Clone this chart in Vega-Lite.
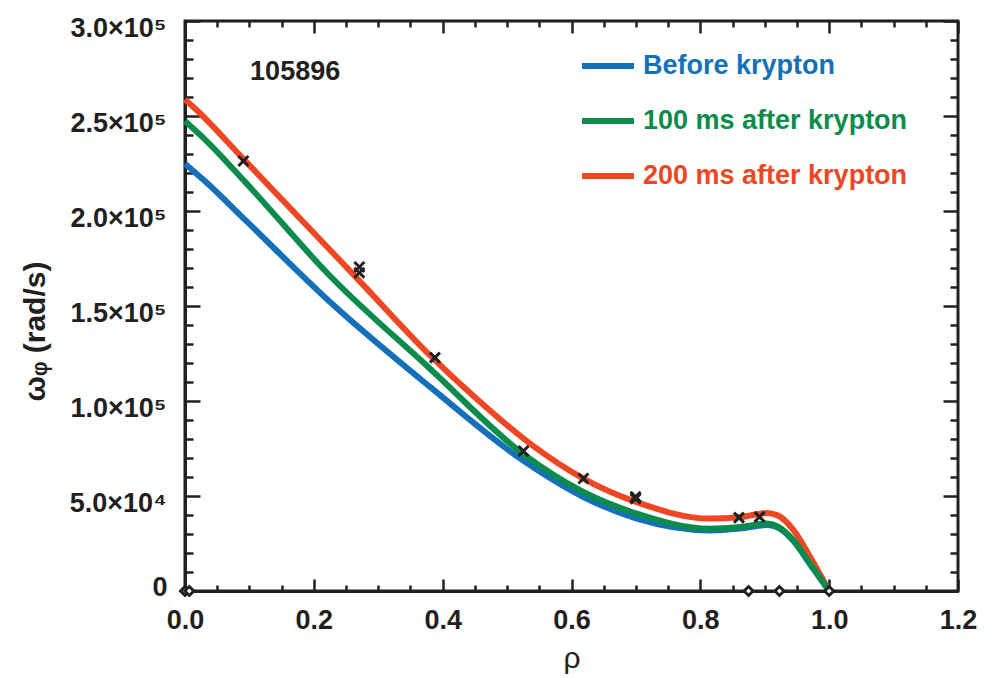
{
  "$schema": "https://vega.github.io/schema/vega-lite/v6.json",
  "width": 773,
  "height": 570,
  "autosize": {"type": "none"},
  "padding": {"left": 185, "top": 21, "right": 34, "bottom": 87},
  "background": "white",
  "config": {
    "font": "Liberation Sans",
    "view": {"stroke": "#231f20", "strokeWidth": 3},
    "axis": {
      "grid": false,
      "labelOverlap": false,
      "labelBound": false,
      "labelFlush": false,
      "domainColor": "#231f20",
      "domainWidth": 3,
      "tickColor": "#231f20",
      "tickWidth": 2.5,
      "labelFont": "Liberation Sans",
      "labelFontSize": 27,
      "labelFontWeight": "bold",
      "labelColor": "#231f20",
      "titleColor": "#231f20",
      "titleFont": "Liberation Sans"
    }
  },
  "datasets": {
    "curves": [
      {"rho": 0, "w": 224900, "series": "Before krypton"},
      {"rho": 0.03, "w": 216000, "series": "Before krypton"},
      {"rho": 0.0958, "w": 194500, "series": "Before krypton"},
      {"rho": 0.2252, "w": 152100, "series": "Before krypton"},
      {"rho": 0.3804, "w": 107400, "series": "Before krypton"},
      {"rho": 0.5244, "w": 68800, "series": "Before krypton"},
      {"rho": 0.6185, "w": 49500, "series": "Before krypton"},
      {"rho": 0.7013, "w": 38100, "series": "Before krypton"},
      {"rho": 0.8152, "w": 31900, "series": "Before krypton"},
      {"rho": 0.8618, "w": 32900, "series": "Before krypton"},
      {"rho": 0.9033, "w": 34700, "series": "Before krypton"},
      {"rho": 0.9193, "w": 33500, "series": "Before krypton"},
      {"rho": 0.9446, "w": 26300, "series": "Before krypton"},
      {"rho": 0.9705, "w": 14000, "series": "Before krypton"},
      {"rho": 1.0, "w": 0, "series": "Before krypton"},
      {"rho": 0, "w": 258700, "series": "200 ms after krypton"},
      {"rho": 0.02, "w": 252500, "series": "200 ms after krypton"},
      {"rho": 0.0854, "w": 229300, "series": "200 ms after krypton"},
      {"rho": 0.2252, "w": 179500, "series": "200 ms after krypton"},
      {"rho": 0.27, "w": 163500, "series": "200 ms after krypton"},
      {"rho": 0.3804, "w": 124000, "series": "200 ms after krypton"},
      {"rho": 0.45, "w": 102000, "series": "200 ms after krypton"},
      {"rho": 0.5357, "w": 77600, "series": "200 ms after krypton"},
      {"rho": 0.6185, "w": 59200, "series": "200 ms after krypton"},
      {"rho": 0.7013, "w": 46800, "series": "200 ms after krypton"},
      {"rho": 0.8152, "w": 38100, "series": "200 ms after krypton"},
      {"rho": 0.862, "w": 38900, "series": "200 ms after krypton"},
      {"rho": 0.903, "w": 41000, "series": "200 ms after krypton"},
      {"rho": 0.92, "w": 39800, "series": "200 ms after krypton"},
      {"rho": 0.945, "w": 31900, "series": "200 ms after krypton"},
      {"rho": 0.9705, "w": 17900, "series": "200 ms after krypton"},
      {"rho": 1.0, "w": 0, "series": "200 ms after krypton"},
      {"rho": 0, "w": 247400, "series": "100 ms after krypton"},
      {"rho": 0.03, "w": 238000, "series": "100 ms after krypton"},
      {"rho": 0.0958, "w": 214400, "series": "100 ms after krypton"},
      {"rho": 0.2252, "w": 165800, "series": "100 ms after krypton"},
      {"rho": 0.3804, "w": 117000, "series": "100 ms after krypton"},
      {"rho": 0.5244, "w": 72300, "series": "100 ms after krypton"},
      {"rho": 0.6185, "w": 52100, "series": "100 ms after krypton"},
      {"rho": 0.7013, "w": 40700, "series": "100 ms after krypton"},
      {"rho": 0.8152, "w": 32800, "series": "100 ms after krypton"},
      {"rho": 0.8618, "w": 33700, "series": "100 ms after krypton"},
      {"rho": 0.9033, "w": 35500, "series": "100 ms after krypton"},
      {"rho": 0.9193, "w": 34100, "series": "100 ms after krypton"},
      {"rho": 0.9446, "w": 26700, "series": "100 ms after krypton"},
      {"rho": 0.9705, "w": 14400, "series": "100 ms after krypton"},
      {"rho": 1.0, "w": 0, "series": "100 ms after krypton"}
    ],
    "meas": [
      {"rho": 0.0906, "w": 226300},
      {"rho": 0.2707, "w": 170500},
      {"rho": 0.2707, "w": 167500},
      {"rho": 0.388, "w": 122800},
      {"rho": 0.5254, "w": 73700},
      {"rho": 0.6185, "w": 59200},
      {"rho": 0.6995, "w": 49600},
      {"rho": 0.6995, "w": 48600},
      {"rho": 0.86, "w": 38600},
      {"rho": 0.892, "w": 39000}
    ],
    "edge": [
      {"rho": 0.0, "w": 0},
      {"rho": 0.0067, "w": 0},
      {"rho": 0.8748, "w": 0},
      {"rho": 0.9228, "w": 0},
      {"rho": 1.0, "w": 0}
    ],
    "note": [
      {"rho": 0.171, "w": 273000, "label": "105896"}
    ]
  },
  "layer": [
    {
      "layer": [
        {
          "data": {"name": "curves"},
          "mark": {"type": "line", "strokeWidth": 6, "interpolate": "monotone"},
          "encoding": {
            "x": {
              "field": "rho", "type": "quantitative",
              "scale": {"domain": [0, 1.2], "nice": false, "zero": false},
              "axis": {
                "orient": "bottom",
                "title": "ρ",
                "titleFontSize": 30,
                "titleFontWeight": "normal",
                "titlePadding": 10,
                "values": [0, 0.2, 0.4, 0.6, 0.8, 1.0, 1.2],
                "format": ".1f",
                "tickSize": -12,
                "labelPadding": 28
              }
            },
            "y": {
              "field": "w", "type": "quantitative",
              "scale": {"domain": [0, 300000], "nice": false},
              "axis": {
                "orient": "left",
                "title": "ωᵩ (rad/s)",
                "titleFontSize": 30,
                "titleFontWeight": "bold",
                "titleAngle": 270,
                "titleX": -150,
                "titleY": 310,
                "titleAlign": "center",
                "titleBaseline": "middle",
                "values": [50000, 100000, 150000, 200000, 250000, 300000],
                "labelExpr": "datum.value >= 100000 ? format(datum.value/100000, '.1f') + '×10⁵' : format(datum.value/10000, '.1f') + '×10⁴'",
                "tickSize": -15,
                "labelPadding": 34,
                "labelOffset": 7
              }
            },
            "color": {
              "field": "series", "type": "nominal",
              "scale": {
                "domain": ["Before krypton", "100 ms after krypton", "200 ms after krypton"],
                "range": ["#1471b9", "#0b8c4c", "#ef4724"]
              },
              "legend": {
                "orient": "none",
                "legendX": 394,
                "legendY": 16,
                "title": null,
                "symbolType": "stroke",
                "symbolSize": 2700,
                "symbolStrokeWidth": 6,
                "labelFont": "Liberation Sans",
                "labelFontSize": 27,
                "labelFontWeight": "bold",
                "labelOffset": 6,
                "labelLimit": 400,
                "rowPadding": 13,
                "padding": 0,
                "encode": {"labels": {"update": {"fill": {"signal": "scale('color', datum.value)"}}}}
              }
            }
          }
        },
        {
          "data": {"name": "meas"},
          "mark": {"type": "point", "shape": "M-1,-1L1,1M1,-1L-1,1", "filled": false, "stroke": "#231f20", "strokeWidth": 3, "size": 100, "opacity": 1},
          "encoding": {
            "x": {"field": "rho", "type": "quantitative"},
            "y": {"field": "w", "type": "quantitative"}
          }
        },
        {
          "data": {"name": "edge"},
          "mark": {"type": "point", "shape": "diamond", "filled": true, "fill": "white", "stroke": "#231f20", "strokeWidth": 3, "size": 80, "opacity": 1},
          "encoding": {
            "x": {"field": "rho", "type": "quantitative"},
            "y": {"field": "w", "type": "quantitative"}
          }
        },
        {
          "data": {"name": "note"},
          "mark": {"type": "text", "fontSize": 27, "fontWeight": "bold", "color": "#231f20", "font": "Liberation Sans"},
          "encoding": {
            "x": {"field": "rho", "type": "quantitative"},
            "y": {"field": "w", "type": "quantitative"},
            "text": {"field": "label"}
          }
        }
      ]
    },
    {
      "data": {"name": "edge"},
      "mark": {"type": "point", "opacity": 0},
      "encoding": {
        "x": {
          "field": "rho", "type": "quantitative",
          "scale": {"domain": [0, 1.2], "nice": false, "zero": false},
          "axis": {
            "orient": "bottom", "title": null, "labels": false, "domain": false,
            "values": [0.05, 0.1, 0.15, 0.25, 0.3, 0.35, 0.45, 0.5, 0.55, 0.65, 0.7, 0.75, 0.85, 0.9, 0.95, 1.05, 1.1, 1.15],
            "tickSize": -6
          }
        },
        "y": {
          "field": "w", "type": "quantitative",
          "scale": {"domain": [0, 300000], "nice": false},
          "axis": {
            "orient": "left", "title": null, "domain": false,
            "values": [0, 10000, 20000, 30000, 40000, 60000, 70000, 80000, 90000, 110000, 120000, 130000, 140000, 160000, 170000, 180000, 190000, 210000, 220000, 230000, 240000, 260000, 270000, 280000, 290000],
            "labelExpr": "datum.value == 0 ? '0' : ''",
            "tickSize": -8,
            "labelPadding": 26,
            "labelOffset": -4
          }
        }
      }
    },
    {
      "data": {"name": "edge"},
      "mark": {"type": "point", "opacity": 0},
      "encoding": {
        "x": {
          "field": "rho", "type": "quantitative",
          "scale": {"domain": [0, 1.2], "nice": false, "zero": false},
          "axis": {
            "orient": "top", "title": null, "labels": false, "domain": false,
            "values": [0, 0.2, 0.4, 0.6, 0.8, 1.0, 1.2],
            "tickSize": -12
          }
        },
        "y": {
          "field": "w", "type": "quantitative",
          "scale": {"domain": [0, 300000], "nice": false},
          "axis": {
            "orient": "right", "title": null, "labels": false, "domain": false,
            "values": [0, 50000, 100000, 150000, 200000, 250000, 300000],
            "tickSize": -15
          }
        }
      }
    },
    {
      "data": {"name": "edge"},
      "mark": {"type": "point", "opacity": 0},
      "encoding": {
        "x": {
          "field": "rho", "type": "quantitative",
          "scale": {"domain": [0, 1.2], "nice": false, "zero": false},
          "axis": {
            "orient": "top", "title": null, "labels": false, "domain": false,
            "values": [0.05, 0.1, 0.15, 0.25, 0.3, 0.35, 0.45, 0.5, 0.55, 0.65, 0.7, 0.75, 0.85, 0.9, 0.95, 1.05, 1.1, 1.15],
            "tickSize": -6
          }
        },
        "y": {
          "field": "w", "type": "quantitative",
          "scale": {"domain": [0, 300000], "nice": false},
          "axis": {
            "orient": "right", "title": null, "labels": false, "domain": false,
            "values": [10000, 20000, 30000, 40000, 60000, 70000, 80000, 90000, 110000, 120000, 130000, 140000, 160000, 170000, 180000, 190000, 210000, 220000, 230000, 240000, 260000, 270000, 280000, 290000],
            "tickSize": -8
          }
        }
      }
    }
  ],
  "resolve": {"scale": {"x": "independent", "y": "independent"}}
}
